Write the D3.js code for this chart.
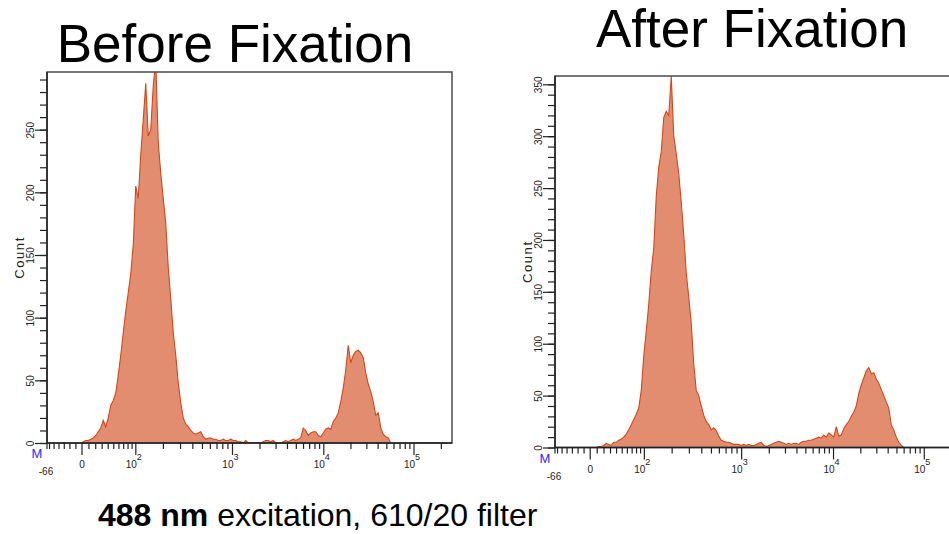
<!DOCTYPE html>
<meta charset="utf-8">
<style>
body { margin: 0; background: #fff; }
svg { display: block; font-family: "Liberation Sans", Arial, sans-serif; }
</style>
<svg width="949" height="534"></svg>
<script src="https://d3js.org/d3.v7.min.js"></script>
<script>

var titles = ["Before Fixation", "After Fixation"];

// counts per display channel (bins equally spaced along the logicle axis)
var beforeCounts = [
  0,0,0,0,0,0,0,0,0,0,0,0,0,0,
  1,2,2,3,4,6,9,12,18,13,20,30,34,40,54,70,88,105,120,135,158,205,195,230,258,287,
  245,250,285,305,240,215,195,175,140,115,88,70,48,32,20,15,13,10,8,7,8,9,5,3,4,4,
  3,3,2,2,3,2,2,3,2,2,1,1,0,2,0,0,0,0,0,0,1,2,2,1,2,0,0,0,1,2,1,2,3,2,3,4,
  12,10,6,8,9,9,6,5,8,11,12,11,17,20,24,33,44,58,78,64,70,73,74,72,68,56,47,41,
  33,22,24,12,7,5,4,
  0,0,0,0,0,0,0,0,0,0,0,0,0,0,0,0,0,0,0,0,0,0,0,0,0
];

var afterCounts = [
  0,0,0,0,0,0,0,0,0,0,0,0,0,0,0,0,0,
  1,1,2,4,3,2,5,5,7,8,10,13,17,22,27,32,38,55,88,112,138,170,192,242,270,285,318,
  324,320,358,300,283,264,236,205,168,145,120,80,55,50,40,31,25,22,17,19,16,11,7,6,
  5,5,4,3,3,3,2,3,2,3,2,2,3,4,5,2,1,2,3,4,5,6,5,4,3,4,3,4,4,3,5,6,6,7,7,8,9,10,9,
  12,10,14,12,10,20,11,12,18,22,25,30,34,40,52,60,67,74,77,71,72,66,62,56,50,44,38,
  22,17,10,5,2,
  0,0,0,0,0,0,0,0,0,0,0,0,0,0,0,0,0,0,0,0,0,0,0,0
];

var yMaxes = [296, 358];
var yLabelStep = 50, yMinorStep = 10;

// logicle-style x axis: values and where they sit along the axis (fraction of width)
var xAnchorValues = [-66, 0, 100, 1000, 10000, 100000, 262144];
var xAnchorFrac = [0, 0.0864, 0.2193, 0.458, 0.6835, 0.9062, 1];
var xMajorValues = [0, 100, 1000, 10000, 100000];
var xMajorLabels = [["0", ""], ["10", "2"], ["10", "3"], ["10", "4"], ["10", "5"]];

var caption = ["488 nm", " excitation, 610/20 filter"];

var svg = d3.select("svg");

var fillColor = "#e38d70",
    lineColor = "#d4461a";

var panels = [
  { counts: beforeCounts, yMax: yMaxes[0], box: { left: 47, top: 72, width: 405, height: 371 } },
  { counts: afterCounts, yMax: yMaxes[1], box: { left: 555, top: 76, width: 407.5, height: 371.5 } }
];

function tr(v) { return Math.asinh(v / 60); }

// minor ticks of the logicle axis
var xMinorValues = [-66].concat(d3.range(-60, 0, 10), d3.range(10, 100, 10));
[100, 1000, 10000].forEach(function(dec) {
  d3.range(2, 10).forEach(function(m) { xMinorValues.push(m * dec); });
});
xMinorValues.push(200000);

panels.forEach(function(p, k) {
  var b = p.box,
      bottom = b.top + b.height,
      right = b.left + b.width;

  var xs = d3.scaleLinear()
      .domain(xAnchorValues.map(tr))
      .range(xAnchorFrac.map(function(f) { return b.left + f * b.width; }));
  var x = function(v) { return xs(tr(v)); };

  var xb = d3.scaleLinear().domain([0, p.counts.length]).range([b.left, right]);
  var y = d3.scaleLinear().domain([0, p.yMax]).range([bottom, b.top]);

  var g = svg.append("g");

  g.append("clipPath").attr("id", "clip" + k)
    .append("rect")
      .attr("x", b.left).attr("y", b.top)
      .attr("width", b.width).attr("height", b.height);

  var firstNZ = p.counts.findIndex(function(d) { return d > 0; });
  var lastNZ = p.counts.length - 1 - p.counts.slice().reverse().findIndex(function(d) { return d > 0; });
  var shown = p.counts.map(function(d, i) { return (i >= firstNZ - 1 && i <= lastNZ + 1) ? d : null; });

  var area = d3.area()
      .defined(function(d) { return d !== null; })
      .x(function(d, i) { return xb(i + 0.5); })
      .y0(y(0))
      .y1(function(d) { return y(d); });
  var line = d3.line()
      .defined(function(d) { return d !== null; })
      .x(function(d, i) { return xb(i + 0.5); })
      .y(function(d) { return y(d); });

  g.append("path")
    .datum(shown)
    .attr("clip-path", "url(#clip" + k + ")")
    .attr("fill", fillColor)
    .attr("d", area);

  g.append("path")
    .datum(shown)
    .attr("clip-path", "url(#clip" + k + ")")
    .attr("fill", "none")
    .attr("stroke", lineColor)
    .attr("stroke-width", 1.1)
    .attr("d", line);

  // frame
  g.append("rect")
    .attr("x", b.left).attr("y", b.top)
    .attr("width", b.width).attr("height", b.height)
    .attr("fill", "none")
    .attr("stroke", "#4a4a4a")
    .attr("stroke-width", 1.5);

  // y axis: minor ticks, then labelled ticks
  var yMinor = g.append("g")
    .attr("transform", "translate(" + b.left + ",0)")
    .call(d3.axisLeft(y).tickValues(d3.range(0, p.yMax, yMinorStep)).tickSize(7).tickFormat(""));
  yMinor.select(".domain").remove();

  var yMajor = g.append("g")
    .attr("transform", "translate(" + b.left + ",0)")
    .call(d3.axisLeft(y).tickValues(d3.range(0, p.yMax, yLabelStep)).tickSize(12));
  yMajor.select(".domain").remove();
  yMajor.selectAll("text")
    .attr("transform", "rotate(-90)")
    .attr("x", 0)
    .attr("y", -17)
    .attr("dy", "0.35em")
    .attr("text-anchor", "middle")
    .attr("fill", "#222")
    .style("font-family", "'Liberation Sans', Arial, sans-serif")
    .style("font-size", "10px");
  g.selectAll(".tick line").attr("stroke", "#222").attr("stroke-width", 1.2);

  g.append("line")
    .attr("x1", b.left).attr("x2", b.left)
    .attr("y1", b.top).attr("y2", bottom)
    .attr("stroke", "#222").attr("stroke-width", 1.5);
  g.append("line")
    .attr("x1", b.left).attr("x2", right)
    .attr("y1", bottom).attr("y2", bottom)
    .attr("stroke", "#222").attr("stroke-width", 1.5);

  // x axis ticks
  g.append("g").selectAll("line").data(xMinorValues).join("line")
    .attr("x1", function(d) { return x(d); })
    .attr("x2", function(d) { return x(d); })
    .attr("y1", bottom).attr("y2", bottom + 6)
    .attr("stroke", "#222").attr("stroke-width", 1.2);

  g.append("g").selectAll("line").data(xMajorValues).join("line")
    .attr("x1", function(d) { return x(d); })
    .attr("x2", function(d) { return x(d); })
    .attr("y1", bottom).attr("y2", bottom + 12)
    .attr("stroke", "#222").attr("stroke-width", 1.2);

  g.append("g").selectAll("text").data(xMajorValues).join("text")
    .attr("y", bottom + 25)
    .attr("font-size", 10)
    .attr("fill", "#222")
    .each(function(d, i) {
      var t = d3.select(this), lab = xMajorLabels[i];
      if (lab[1] === "") {
        t.attr("x", x(d)).attr("text-anchor", "middle").text(lab[0]);
      } else {
        var base = t.append("tspan").text(lab[0]);
        var w = base.node().getComputedTextLength();
        t.attr("x", x(d) + 1 - w).attr("text-anchor", "start");
        t.append("tspan").attr("dy", -8).attr("font-size", 9).text(lab[1]);
      }
    });

  g.append("text")
    .attr("x", b.left - 1).attr("y", bottom + 32)
    .attr("text-anchor", "middle")
    .attr("font-size", 10).attr("fill", "#222")
    .text("-66");

  g.append("text")
    .attr("x", b.left - 10).attr("y", bottom + 15)
    .attr("text-anchor", "middle")
    .attr("font-size", 13).attr("fill", "#2b2bff")
    .text("M");

  g.append("text")
    .attr("transform", "translate(" + (b.left - 23) + "," + (b.top + b.height / 2) + ") rotate(-90)")
    .attr("text-anchor", "middle")
    .attr("font-size", 13)
    .attr("letter-spacing", 1.6)
    .attr("fill", "#222")
    .text("Count");
});

svg.append("text")
  .attr("x", 235).attr("y", 62)
  .attr("text-anchor", "middle")
  .attr("font-size", 53)
  .text(titles[0]);

svg.append("text")
  .attr("x", 752).attr("y", 47)
  .attr("text-anchor", "middle")
  .attr("font-size", 53)
  .text(titles[1]);

var cap = svg.append("text")
  .attr("x", 98).attr("y", 526)
  .attr("font-size", 32);
cap.append("tspan").attr("font-weight", "bold").text(caption[0]);
cap.append("tspan").text(caption[1]);

</script>
